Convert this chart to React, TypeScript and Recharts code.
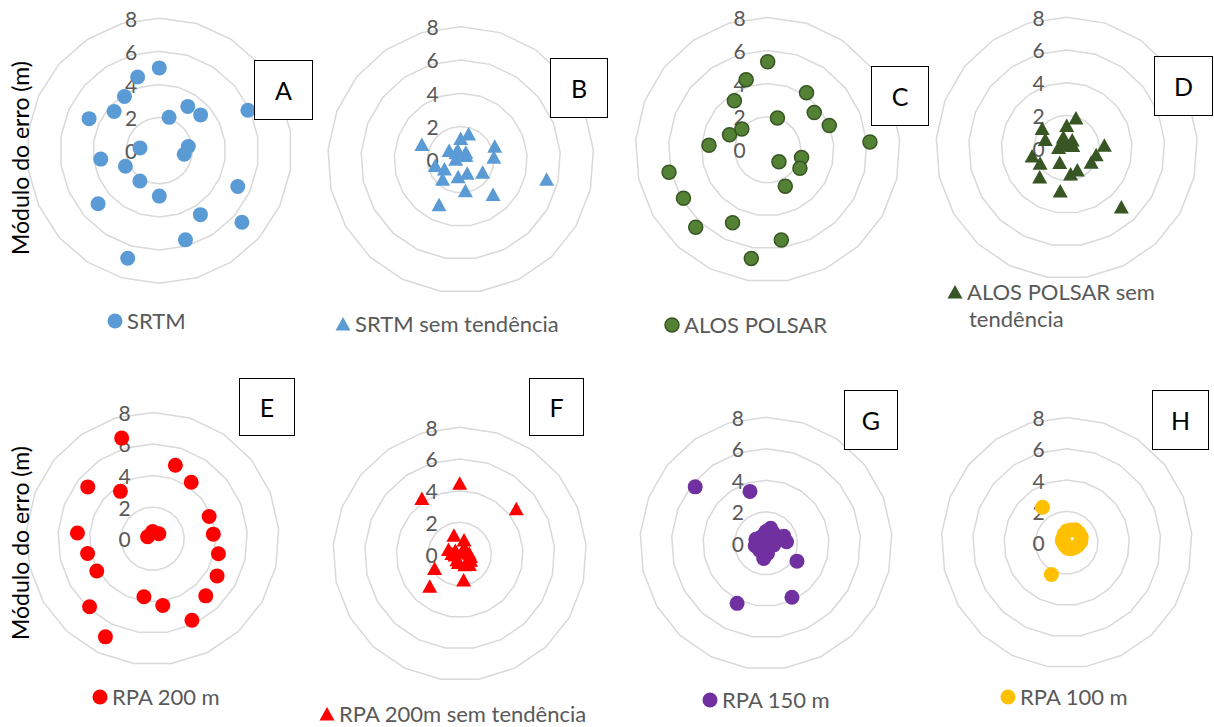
import { RadarChart, PolarGrid, PolarAngleAxis, PolarRadiusAxis, Radar } from "recharts";

// Módulo do erro (m) de cada ponto de controle, em sentido horário a partir do topo
const srtm = [5.0, 2.1, 3.18, 3.3, 5.88, 1.77, 1.52, 5.21, 6.6, 4.59, 5.61, 2.74, 6.77, 2.17, 4.89, 2.25, 3.57, 1.18, 4.66, 3.61, 3.89, 4.64];
const srtmSemTendencia = [1.28, 1.61, 0.55, 0.4, 2.2, 2.0, 5.3, 1.52, 2.86, 0.9, 1.89, 1.03, 3.0, 1.6, 1.13, 1.57, 0.3, 2.51, 0.89, 0.5, 0.6];
const alosPolsar = [5.32, 2.0, 4.17, 3.6, 4.0, 6.2, 2.1, 2.25, 1.0, 2.45, 5.52, 6.65, 4.9, 6.4, 5.88, 6.12, 3.56, 2.48, 2.0, 3.58, 4.42];
const alosSemTendencia = [1.37, 1.92, 0.6, 0.27, 0.4, 2.31, 1.85, 1.73, 4.92, 1.5, 1.61, 2.66, 0.98, 2.43, 1.88, 2.17, 0.5, 1.41, 1.92, 0.35, 0.7];
const rpa200 = [0.45, 4.87, 4.33, 0.5, 3.84, 3.85, 4.27, 4.71, 4.94, 5.73, 4.28, 3.72, 6.9, 5.88, 4.09, 4.23, 4.78, 0.35, 5.26, 3.63, 6.67];
const rpa200SemTendencia = [4.46, 0.93, 0.5, 4.57, 0.3, 0.6, 0.7, 0.8, 0.9, 0.75, 1.66, 0.55, 0.4, 2.78, 1.83, 0.3, 0.5, 0.76, 0.35, 4.24, 1.24];
const rpa150 = [0.75, 1.0, 0.8, 0.6, 1.22, 1.31, 0.5, 2.27, 0.3, 3.8, 0.65, 0.97, 4.23, 0.6, 0.5, 0.7, 0.6, 0.69, 5.75, 0.5, 3.45];
const rpa100 = [0.75, 0.85, 1.0, 1.0, 1.0, 0.9, 0.75, 0.6, 0.5, 0.4, 0.35, 0.25, 2.25, 0.2, 0.15, 0.15, 0.2, 0.3, 0.35, 2.74, 0.55];

const radiusTicks = [0, 2, 4, 6, 8];
const axisTitle = "Módulo do erro (m)";

type Shape = "circle" | "triangle";

interface Panel {
  letter: string;
  legend: string[];
  values: number[];
  color: string;
  edge?: string;
  shape: Shape;
  left: number;
  top: number;
  cx: number;
  cy: number;
  radius: number;
  box: { x: number; y: number; w: number; h: number };
  key: { x: number; y: number };
}

const panels: Panel[] = [
  { letter: "A", legend: ["SRTM"], values: srtm, color: "#5B9BD5", shape: "circle", left: 0, top: 0, cx: 159.3, cy: 150.7, radius: 132.5, box: { x: 254, y: 60, w: 59, h: 60 }, key: { x: 115, y: 321 } },
  { letter: "B", legend: ["SRTM sem tendência"], values: srtmSemTendencia, color: "#5B9BD5", shape: "triangle", left: 303, top: 0, cx: 157.7, cy: 159.7, radius: 133, box: { x: 550, y: 58, w: 58, h: 60 }, key: { x: 343, y: 324 } },
  { letter: "C", legend: ["ALOS POLSAR"], values: alosPolsar, color: "#548235", edge: "#375623", shape: "circle", left: 606, top: 0, cx: 161.7, cy: 149.7, radius: 132.3, box: { x: 871, y: 66, w: 58, h: 60 }, key: { x: 672, y: 325 } },
  { letter: "D", legend: ["ALOS POLSAR sem", "tendência"], values: alosSemTendencia, color: "#375623", shape: "triangle", left: 909, top: 0, cx: 157.7, cy: 148, radius: 130.7, box: { x: 1154, y: 56, w: 59, h: 60 }, key: { x: 955, y: 292 } },
  { letter: "E", legend: ["RPA 200 m"], values: rpa200, color: "#FF0000", shape: "circle", left: 0, top: 385, cx: 152.7, cy: 153.7, radius: 126.3, box: { x: 239, y: 378, w: 56, h: 58 }, key: { x: 100, y: 697 } },
  { letter: "F", legend: ["RPA 200m sem tendência"], values: rpa200SemTendencia, color: "#FF0000", shape: "triangle", left: 303, top: 385, cx: 156.7, cy: 169, radius: 126.7, box: { x: 529, y: 378, w: 55, h: 58 }, key: { x: 327, y: 714 } },
  { letter: "G", legend: ["RPA 150 m"], values: rpa150, color: "#7030A0", shape: "circle", left: 606, top: 385, cx: 160, cy: 158.3, radius: 126, box: { x: 844, y: 390, w: 54, h: 60 }, key: { x: 710, y: 700 } },
  { letter: "H", legend: ["RPA 100 m"], values: rpa100, color: "#FFC000", shape: "circle", left: 909, top: 385, cx: 157.7, cy: 157.7, radius: 125.3, box: { x: 1152, y: 390, w: 57, h: 60 }, key: { x: 1008, y: 697 } },
];

const FONT = "Lato, 'Open Sans', sans-serif";
const GRID = "#D9D9D9";
const TEXT = "#595959";

function Marker({ cx, cy, shape, color, edge }: { cx: number; cy: number; shape: Shape; color: string; edge?: string }) {
  if (shape === "triangle") {
    return <polygon points={`${cx},${cy - 7} ${cx + 7.5},${cy + 6.5} ${cx - 7.5},${cy + 6.5}`} fill={color} />;
  }
  return <circle cx={cx} cy={cy} r={edge ? 7 : 7.5} fill={color} stroke={edge ?? "none"} strokeWidth={edge ? 1.5 : 0} />;
}

function ValueTick(props: any) {
  const { x, y, payload } = props;
  return (
    <text x={x - 22} y={y} textAnchor="end" dominantBaseline="central" fill={TEXT} fontSize={21} fontFamily={FONT}>
      {payload.value}
    </text>
  );
}

function ErrorRadar({ p }: { p: Panel }) {
  const data = p.values.map((v, i) => ({ ponto: i + 1, erro: v }));
  return (
    <RadarChart
      width={303}
      height={310}
      data={data}
      cx={p.cx}
      cy={p.cy}
      outerRadius={p.radius}
      margin={{ top: 0, right: 0, bottom: 0, left: 0 }}
      style={{ position: "absolute", left: p.left, top: p.top }}
    >
      <PolarGrid gridType="polygon" radialLines={false} stroke={GRID} strokeWidth={1.5} />
      <PolarAngleAxis dataKey="ponto" tick={false} axisLine={false} tickLine={false} />
      <PolarRadiusAxis
        angle={90}
        domain={[radiusTicks[0], radiusTicks[radiusTicks.length - 1]]}
        tickCount={radiusTicks.length}
        axisLine={false}
        tickLine={false}
        tick={ValueTick}
      />
      <Radar
        dataKey="erro"
        stroke="none"
        fill="none"
        fillOpacity={0}
        isAnimationActive={false}
        dot={(d: any) => (
          <Marker key={`${p.letter}-${d.index}-${d.cx}`} cx={d.cx} cy={d.cy} shape={p.shape} color={p.color} edge={p.edge} />
        )}
      />
    </RadarChart>
  );
}

function LegendKey({ p }: { p: Panel }) {
  return (
    <div style={{ position: "absolute", left: p.key.x - 8, top: p.key.y - 12, color: TEXT, fontSize: 22, lineHeight: "24px", fontFamily: FONT }}>
      {p.legend.map((line, i) => (
        <div key={line} style={{ display: "flex", alignItems: "center", height: i > 0 ? 30 : 24, paddingLeft: i > 0 ? 22 : 0 }}>
          {i === 0 && (
            <svg width={16} height={16} style={{ marginRight: 4 }}>
              <Marker cx={8} cy={8} shape={p.shape} color={p.color} edge={p.edge} />
            </svg>
          )}
          <span>{line}</span>
        </div>
      ))}
    </div>
  );
}

export default function App() {
  return (
    <div style={{ position: "absolute", left: 0, top: 0, width: 1214, height: 727, background: "#fff", fontFamily: FONT, overflow: "hidden" }}>
      {panels.map((p) => (
        <ErrorRadar key={p.letter} p={p} />
      ))}
      {panels.map((p) => (
        <LegendKey key={`lg-${p.letter}`} p={p} />
      ))}
      {panels.map((p) => (
        <div
          key={`bx-${p.letter}`}
          style={{
            position: "absolute",
            left: p.box.x,
            top: p.box.y,
            width: p.box.w,
            height: p.box.h,
            boxSizing: "border-box",
            border: "1.5px solid #000",
            display: "flex",
            alignItems: "center",
            justifyContent: "center",
            fontSize: 25,
            color: "#000",
            background: "#fff",
          }}
        >
          {p.letter}
        </div>
      ))}
      {[158, 543].map((cy) => (
        <div
          key={`t-${cy}`}
          style={{
            position: "absolute",
            left: 20,
            top: cy,
            transform: "translate(-50%, -50%) rotate(-90deg)",
            whiteSpace: "nowrap",
            fontSize: 23,
            color: "#000",
          }}
        >
          {axisTitle}
        </div>
      ))}
    </div>
  );
}
